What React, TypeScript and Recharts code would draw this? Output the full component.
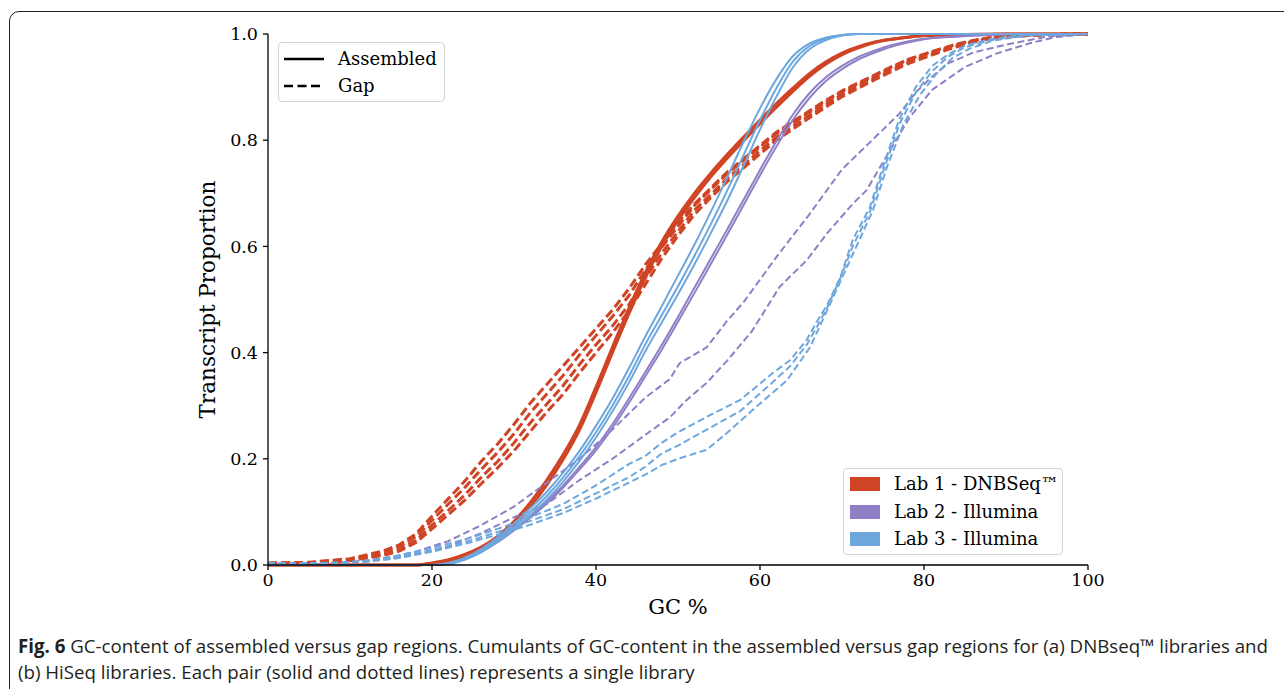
import { CartesianGrid, Line, LineChart, XAxis, YAxis } from 'recharts'

// colours per lab
const RED = '#d04426'
const PURPLE = '#8f7fc6'
const BLUE = '#6da7de'

const xTicks = [0, 20, 40, 60, 80, 100]
const yTicks = [0, 0.2, 0.4, 0.6, 0.8, 1.0]

// Lab 1 - assembled (solid)
const lab1AsmGc = [0, 18, 20, 22, 24, 26, 28, 30, 32, 34, 36, 38, 40, 42, 44, 46, 48, 50, 52, 54, 56, 58, 60, 62, 64, 66, 68, 70, 72, 74, 76, 78, 80, 85, 90, 100]
const lab1AsmA = [0, 0, 0.004, 0.01, 0.02, 0.034, 0.054, 0.082, 0.118, 0.16, 0.208, 0.264, 0.335, 0.41, 0.483, 0.55, 0.608, 0.657, 0.7, 0.738, 0.773, 0.806, 0.838, 0.869, 0.898, 0.925, 0.947, 0.964, 0.976, 0.985, 0.99, 0.994, 0.997, 0.999, 1, 1]
const lab1AsmB = [0, 0, 0.003, 0.008, 0.017, 0.03, 0.049, 0.076, 0.11, 0.151, 0.199, 0.255, 0.325, 0.4, 0.473, 0.541, 0.6, 0.649, 0.692, 0.731, 0.766, 0.799, 0.831, 0.862, 0.892, 0.92, 0.943, 0.961, 0.974, 0.984, 0.99, 0.994, 0.997, 0.999, 1, 1]

// Lab 1 - gap (dashed)
const lab1GapGc = [0, 5, 10, 14, 16, 18, 20, 22, 24, 26, 28, 30, 32, 34, 36, 38, 40, 42, 44, 46, 48, 50, 52, 54, 56, 58, 60, 62, 64, 66, 68, 70, 72, 74, 76, 78, 80, 82, 84, 86, 88, 90, 95, 100]
const lab1Gap1 = [0.004, 0.005, 0.012, 0.026, 0.038, 0.058, 0.092, 0.125, 0.158, 0.195, 0.228, 0.265, 0.305, 0.34, 0.375, 0.41, 0.445, 0.48, 0.52, 0.565, 0.605, 0.645, 0.68, 0.71, 0.74, 0.765, 0.79, 0.815, 0.835, 0.855, 0.875, 0.893, 0.908, 0.923, 0.938, 0.952, 0.962, 0.972, 0.981, 0.988, 0.993, 0.996, 0.999, 1]
const lab1Gap2 = [0.003, 0.004, 0.011, 0.023, 0.034, 0.053, 0.084, 0.115, 0.146, 0.18, 0.212, 0.247, 0.287, 0.322, 0.357, 0.396, 0.432, 0.468, 0.507, 0.555, 0.598, 0.638, 0.677, 0.707, 0.737, 0.762, 0.787, 0.812, 0.832, 0.852, 0.871, 0.891, 0.906, 0.921, 0.936, 0.951, 0.961, 0.971, 0.98, 0.987, 0.993, 0.996, 0.999, 1]
const lab1Gap3 = [0.002, 0.003, 0.009, 0.02, 0.029, 0.046, 0.075, 0.103, 0.132, 0.165, 0.195, 0.23, 0.268, 0.303, 0.338, 0.378, 0.415, 0.45, 0.49, 0.54, 0.587, 0.628, 0.668, 0.698, 0.728, 0.754, 0.78, 0.805, 0.826, 0.846, 0.866, 0.886, 0.902, 0.917, 0.932, 0.947, 0.958, 0.968, 0.978, 0.986, 0.992, 0.995, 0.999, 1]
const lab1Gap4 = [0.002, 0.003, 0.008, 0.018, 0.026, 0.042, 0.068, 0.095, 0.122, 0.153, 0.183, 0.215, 0.252, 0.288, 0.322, 0.362, 0.4, 0.437, 0.478, 0.528, 0.577, 0.62, 0.66, 0.692, 0.722, 0.748, 0.774, 0.8, 0.821, 0.842, 0.862, 0.882, 0.898, 0.914, 0.929, 0.944, 0.955, 0.966, 0.976, 0.985, 0.991, 0.995, 0.999, 1]

// Lab 2 - assembled
const lab2AsmGc = [0, 20, 22, 24, 26, 28, 30, 32, 34, 36, 38, 40, 42, 44, 46, 48, 50, 52, 54, 56, 58, 60, 62, 64, 66, 68, 70, 72, 74, 76, 78, 80, 84, 88, 92, 100]
const lab2AsmA = [0, 0, 0.003, 0.012, 0.026, 0.045, 0.068, 0.092, 0.12, 0.15, 0.185, 0.222, 0.265, 0.313, 0.363, 0.414, 0.467, 0.522, 0.577, 0.632, 0.688, 0.744, 0.798, 0.848, 0.888, 0.918, 0.94, 0.957, 0.969, 0.979, 0.986, 0.991, 0.996, 0.999, 1, 1]
const lab2AsmB = [0, 0, 0.003, 0.011, 0.025, 0.043, 0.065, 0.089, 0.116, 0.146, 0.18, 0.216, 0.258, 0.305, 0.355, 0.405, 0.458, 0.512, 0.567, 0.622, 0.678, 0.734, 0.788, 0.838, 0.879, 0.911, 0.934, 0.952, 0.965, 0.976, 0.984, 0.99, 0.995, 0.998, 1, 1]

// Lab 2 - gap
const lab2Gap1Gc = [0, 10, 14, 18, 22, 26, 30, 34, 38, 42, 46, 49, 50.2, 53.5, 56, 58, 62, 66, 70, 74, 77, 79, 81, 83, 86, 90, 95, 100]
const lab2Gap1 = [0.002, 0.005, 0.012, 0.025, 0.045, 0.075, 0.11, 0.155, 0.2, 0.255, 0.315, 0.35, 0.38, 0.41, 0.46, 0.495, 0.58, 0.66, 0.745, 0.805, 0.85, 0.89, 0.92, 0.945, 0.965, 0.98, 0.995, 1]
const lab2Gap2Gc = [0, 10, 14, 18, 22, 26, 30, 34, 38, 42, 46, 49, 51, 53.5, 56, 59, 62.4, 65.7, 68.2, 71.3, 73, 76, 78.3, 81, 85, 89, 93, 96, 100]
const lab2Gap2 = [0.002, 0.005, 0.01, 0.02, 0.035, 0.06, 0.09, 0.115, 0.16, 0.2, 0.245, 0.278, 0.31, 0.343, 0.385, 0.44, 0.524, 0.574, 0.625, 0.68, 0.706, 0.785, 0.844, 0.895, 0.938, 0.964, 0.983, 0.994, 1]

// Lab 3 - assembled
const lab3AsmGc = [0, 20, 22, 24, 26, 28, 30, 32, 34, 36, 38, 40, 42, 44, 46, 48, 50, 52, 54, 56, 58, 60, 62, 64, 66, 68, 70, 72, 100]
const lab3AsmA = [0, 0, 0.004, 0.014, 0.03, 0.052, 0.078, 0.107, 0.138, 0.174, 0.215, 0.262, 0.313, 0.37, 0.43, 0.487, 0.545, 0.603, 0.665, 0.73, 0.797, 0.86, 0.915, 0.958, 0.982, 0.993, 0.998, 1, 1]
const lab3AsmB = [0, 0, 0.003, 0.012, 0.027, 0.048, 0.072, 0.1, 0.13, 0.165, 0.205, 0.25, 0.3, 0.355, 0.415, 0.47, 0.525, 0.582, 0.642, 0.705, 0.772, 0.838, 0.898, 0.948, 0.977, 0.991, 0.998, 1, 1]
const lab3AsmC = [0, 0, 0.002, 0.01, 0.024, 0.044, 0.067, 0.094, 0.123, 0.157, 0.196, 0.24, 0.289, 0.343, 0.402, 0.456, 0.51, 0.566, 0.625, 0.686, 0.752, 0.82, 0.882, 0.937, 0.971, 0.988, 0.997, 1, 1]

// Lab 3 - gap
const lab3GapGc = [0, 8, 12, 16, 20, 24, 28, 32, 36, 40, 44, 46, 48, 50, 53.5, 57.6, 61.6, 63.7, 65.7, 67, 68.2, 69.8, 71.3, 73.4, 75, 77, 79, 81, 83, 85, 88, 92, 100]
const lab3Gap1 = [0.003, 0.004, 0.008, 0.018, 0.032, 0.048, 0.068, 0.09, 0.115, 0.15, 0.19, 0.205, 0.23, 0.25, 0.279, 0.311, 0.362, 0.386, 0.424, 0.46, 0.49, 0.542, 0.612, 0.674, 0.75, 0.84, 0.9, 0.94, 0.962, 0.978, 0.99, 0.998, 1]
const lab3Gap2 = [0.003, 0.004, 0.007, 0.015, 0.028, 0.043, 0.062, 0.083, 0.105, 0.135, 0.165, 0.185, 0.21, 0.225, 0.255, 0.29, 0.345, 0.375, 0.415, 0.45, 0.485, 0.54, 0.6, 0.665, 0.74, 0.83, 0.89, 0.93, 0.958, 0.975, 0.988, 0.997, 1]
const lab3Gap3Gc = [0, 8, 12, 16, 20, 24, 28, 32, 36, 40, 44, 46, 48, 50, 53.5, 56, 59.1, 63.3, 66.1, 68.2, 70.6, 73.8, 75.5, 77.5, 79.5, 81.5, 83.5, 85.5, 88.5, 93, 100]
const lab3Gap3 = [0.003, 0.004, 0.006, 0.013, 0.025, 0.04, 0.057, 0.076, 0.098, 0.125, 0.155, 0.17, 0.188, 0.2, 0.217, 0.249, 0.292, 0.348, 0.41, 0.48, 0.561, 0.669, 0.75, 0.83, 0.885, 0.925, 0.955, 0.972, 0.988, 0.998, 1]

const labs = [
  { name: 'Lab 1 - DNBSeq\u2122', color: RED },
  { name: 'Lab 2 - Illumina', color: PURPLE },
  { name: 'Lab 3 - Illumina', color: BLUE },
]

const pts = (xs: number[], ys: number[]) => xs.map((x, i) => ({ x, y: ys[i] }))

type S = { key: string; data: { x: number; y: number }[]; color: string; dashed: boolean; width: number; dash?: string }

const series: S[] = [
  { key: 'l1a1', data: pts(lab1AsmGc, lab1AsmA), color: RED, dashed: false, width: 3 },
  { key: 'l1a2', data: pts(lab1AsmGc, lab1AsmB), color: RED, dashed: false, width: 3 },
  { key: 'l1g1', data: pts(lab1GapGc, lab1Gap1), color: RED, dashed: true, width: 3, dash: '9 4' },
  { key: 'l1g2', data: pts(lab1GapGc, lab1Gap2), color: RED, dashed: true, width: 3, dash: '9 4' },
  { key: 'l1g3', data: pts(lab1GapGc, lab1Gap3), color: RED, dashed: true, width: 3, dash: '9 4' },
  { key: 'l1g4', data: pts(lab1GapGc, lab1Gap4), color: RED, dashed: true, width: 3, dash: '9 4' },
  { key: 'l2a1', data: pts(lab2AsmGc, lab2AsmA), color: PURPLE, dashed: false, width: 2 },
  { key: 'l2a2', data: pts(lab2AsmGc, lab2AsmB), color: PURPLE, dashed: false, width: 2 },
  { key: 'l2g1', data: pts(lab2Gap1Gc, lab2Gap1), color: PURPLE, dashed: true, width: 2, dash: '7 3.5' },
  { key: 'l2g2', data: pts(lab2Gap2Gc, lab2Gap2), color: PURPLE, dashed: true, width: 2, dash: '7 3.5' },
  { key: 'l3a1', data: pts(lab3AsmGc, lab3AsmA), color: BLUE, dashed: false, width: 2 },
  { key: 'l3a2', data: pts(lab3AsmGc, lab3AsmB), color: BLUE, dashed: false, width: 2 },
  { key: 'l3a3', data: pts(lab3AsmGc, lab3AsmC), color: BLUE, dashed: false, width: 2 },
  { key: 'l3g1', data: pts(lab3GapGc, lab3Gap1), color: BLUE, dashed: true, width: 2, dash: '7 3.5' },
  { key: 'l3g2', data: pts(lab3GapGc, lab3Gap2), color: BLUE, dashed: true, width: 2, dash: '7 3.5' },
  { key: 'l3g3', data: pts(lab3Gap3Gc, lab3Gap3), color: BLUE, dashed: true, width: 2, dash: '7 3.5' },
]

const serif = '"DejaVu Serif", serif'
const tickStyle = { fontFamily: serif, fontSize: 17.5, fill: '#000' }

export default function App() {
  return (
    <div style={{ position: 'fixed', inset: 0, overflow: 'hidden', background: '#fff' }}>
      <div
        style={{
          position: 'absolute', left: 9, top: 11, width: 1300, height: 720,
          border: '1.5px solid #222', borderRadius: 10, boxSizing: 'border-box',
        }}
      />
      <div style={{ position: 'absolute', left: 0, top: 0 }}>
        <LineChart width={1284} height={620} margin={{ top: 34, right: 196, bottom: 25, left: 208 }}>
          <CartesianGrid stroke="none" />
          <XAxis
            type="number" dataKey="x" domain={[0, 100]} ticks={xTicks} allowDuplicatedCategory={false}
            height={30} tickSize={5} tickMargin={4} tick={tickStyle}
            stroke="#000" strokeWidth={1.3} tickLine={{ stroke: '#000' }}
            label={{
              content: ({ viewBox }: any) => (
                <text x={viewBox.x + viewBox.width / 2} y={viewBox.y + 42} textAnchor="middle" dominantBaseline="central"
                  style={{ fontFamily: serif, fontSize: 21, fill: '#000' }}>GC %</text>
              ),
            }}
          />
          <YAxis
            type="number" dataKey="y" domain={[0, 1]} ticks={yTicks} width={60}
            tickSize={5} tickMargin={5} tick={tickStyle} tickFormatter={(v: number) => v.toFixed(1)}
            stroke="#000" strokeWidth={1.3} tickLine={{ stroke: '#000' }}
            label={{
              content: ({ viewBox }: any) => {
                const cx = viewBox.x - 1
                const cy = viewBox.y + viewBox.height / 2
                return (
                  <text x={cx} y={cy} textAnchor="middle" dominantBaseline="central" transform={`rotate(-90 ${cx} ${cy})`}
                    style={{ fontFamily: serif, fontSize: 21.5, fill: '#000' }}>Transcript Proportion</text>
                )
              },
            }}
          />
          {series.map((s) => (
            <Line
              key={s.key} data={s.data} dataKey="y" type={s.dashed ? 'linear' : 'monotone'}
              stroke={s.color} strokeWidth={s.width} strokeDasharray={s.dashed ? s.dash : undefined}
              dot={false} activeDot={false} isAnimationActive={false}
            />
          ))}
        </LineChart>
      </div>

      {/* line style legend */}
      <div
        style={{
          position: 'absolute', left: 278, top: 42, width: 167, height: 60, boxSizing: 'border-box',
          border: '1px solid #d4d4d4', borderRadius: 4, background: 'rgba(255,255,255,0.8)',
          fontFamily: serif, fontSize: 18, color: '#000',
        }}
      >
        {[{ label: 'Assembled', dash: undefined }, { label: 'Gap', dash: '9 4.5' }].map((it, i) => (
          <div key={it.label} style={{ position: 'absolute', left: 5, top: 5 + i * 27, height: 22, display: 'flex', alignItems: 'center' }}>
            <svg width={40} height={6} style={{ display: 'block' }}>
              <line x1={0} x2={40} y1={3} y2={3} stroke="#000" strokeWidth={2.6} strokeDasharray={it.dash} />
            </svg>
            <span style={{ marginLeft: 14, lineHeight: '22px' }}>{it.label}</span>
          </div>
        ))}
      </div>

      {/* lab colour legend */}
      <div
        style={{
          position: 'absolute', left: 843, top: 468, width: 220, height: 87, boxSizing: 'border-box',
          border: '1px solid #d4d4d4', borderRadius: 4, background: 'rgba(255,255,255,0.8)',
          fontFamily: serif, fontSize: 18, color: '#000',
        }}
      >
        {labs.map((l, i) => (
          <div key={l.name} style={{ position: 'absolute', left: 6, top: 4 + i * 27.5, height: 22, display: 'flex', alignItems: 'center' }}>
            <div style={{ width: 30, height: 14, background: l.color }} />
            <span style={{ marginLeft: 14, lineHeight: '22px', whiteSpace: 'nowrap' }}>{l.name}</span>
          </div>
        ))}
      </div>

      {/* caption */}
      <div
        style={{
          position: 'absolute', left: 18, top: 633, width: 1262,
          fontFamily: '"Open Sans", sans-serif', fontSize: 18.7, lineHeight: '26px', color: '#231f20',
          whiteSpace: 'nowrap',
        }}
      >
        <div><b>Fig. 6</b> GC-content of assembled versus gap regions. Cumulants of GC-content in the assembled versus gap regions for (a) DNBseq™ libraries and</div>
        <div>(b) HiSeq libraries. Each pair (solid and dotted lines) represents a single library</div>
      </div>
    </div>
  )
}
